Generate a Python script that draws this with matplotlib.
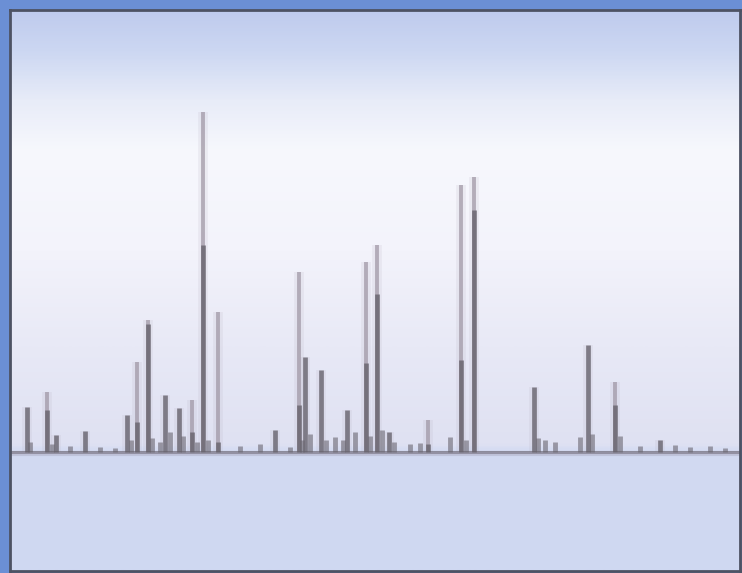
import numpy as np
import matplotlib.pyplot as plt
from matplotlib.colors import LinearSegmentedColormap

# peak positions (panel units) and heights above baseline
peak_x = [17, 37, 46, 75, 117, 127, 138, 155, 169, 182, 193, 208, 265, 289, 295,
          311, 337, 356, 367, 379, 418, 451, 464, 524, 578, 605, 650]
light_h = [0, 60, 0, 0, 0, 90, 132, 0, 0, 52, 340, 140, 0, 180, 0,
           0, 0, 190, 207, 0, 32, 267, 275, 0, 0, 70, 0]
dark_h = [45, 42, 17, 21, 37, 30, 128, 57, 44, 20, 207, 10, 22, 47, 95,
          82, 42, 89, 158, 20, 8, 92, 242, 65, 107, 47, 12]

# small bumps along the baseline
noise_x = [20, 42, 60, 90, 105, 121, 142, 150, 160, 173, 187, 198, 230, 250, 280, 292,
           300, 316, 325, 333, 345, 360, 372, 384, 400, 410, 440, 456, 528, 535, 545,
           570, 582, 610, 630, 665, 680, 700, 715]
noise_h = [10, 8, 6, 5, 4, 12, 14, 10, 20, 16, 10, 12, 6, 8, 5, 12,
           18, 12, 15, 12, 20, 16, 22, 10, 8, 9, 15, 12, 14, 12, 10,
           15, 18, 16, 6, 7, 5, 6, 4]

fig = plt.figure(figsize=(7.42, 5.73), dpi=100)
fig.patch.set_facecolor('#6b8fd5')
ax = fig.add_axes([10 / 742, 2 / 573, 730 / 742, 561 / 573])

ax.set_xlim(0, 730)
ax.set_ylim(-119, 442)

# background gradient (top of panel first)
stops = [(0.0, '#bfcbed'), (0.07, '#ccd7f2'), (0.16, '#e8ecf8'), (0.25, '#f7f8fd'),
         (0.43, '#f3f3fb'), (0.60, '#e8e9f6'), (0.775, '#dfe1f2'), (0.79, '#d2daf2'),
         (1.0, '#cfd8f1')]
cmap = LinearSegmentedColormap.from_list('bg', stops)
grad = np.linspace(0, 1, 400).reshape(-1, 1)
ax.imshow(grad, cmap=cmap, aspect='auto', extent=[0, 1, 0, 1],
          transform=ax.transAxes, zorder=0)

# soft glow under peaks
ax.vlines(peak_x, 0, np.maximum(light_h, dark_h), color='#b0a8b8', lw=7, alpha=0.15, zorder=1)
# tall pale part
ax.vlines(peak_x, 0, light_h, color='#9d94a2', lw=2.8, alpha=0.7, zorder=2)
# darker lower part
ax.vlines(peak_x, 0, dark_h, color='#67636d', lw=3.4, alpha=0.8, zorder=3)
ax.vlines(noise_x, 0, noise_h, color='#6a6670', lw=3.5, alpha=0.6, zorder=3)

# baseline
ax.axhline(0, color='#75717f', lw=2.2, alpha=0.75, zorder=2)
ax.axhline(-2, color='#a09cb0', lw=3, alpha=0.35, zorder=2)

ax.set_xticks([])
ax.set_yticks([])
for side, sp in ax.spines.items():
    sp.set_color('#4d5263')
    sp.set_linewidth(2)

plt.savefig('out.png', dpi=100, facecolor=fig.get_facecolor())
